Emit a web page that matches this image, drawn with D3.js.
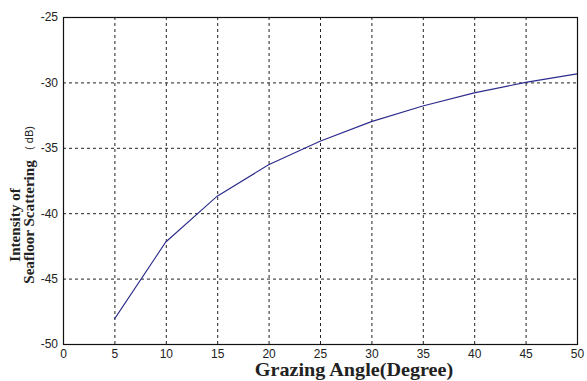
<!DOCTYPE html>
<html>
<head>
<meta charset="utf-8">
<script src="https://cdn.jsdelivr.net/npm/d3@7"></script>
<style>
  body { margin: 0; background: #fff; }
  .tick text { font-family: "Liberation Sans", Arial, sans-serif; font-size: 12px; fill: #222; }
</style>
</head>
<body>
<div class="chart"></div>
<script>
// grazing angle (degree) vs intensity of seafloor scattering (dB)
const angles = [5, 10, 15, 20, 25, 30, 35, 40, 45, 50];
const intensity = [-48.1, -42.2, -38.7, -36.3, -34.5, -33.0, -31.8, -30.8, -30.0, -29.35];
const xTicks = [0, 5, 10, 15, 20, 25, 30, 35, 40, 45, 50];
const yTicks = [-50, -45, -40, -35, -30, -25];

const svgWidth = 587, svgHeight = 381;
const margin = {top: 17, right: 10, bottom: 37, left: 63};
const graphWidth = svgWidth - margin.left - margin.right;
const graphHeight = svgHeight - margin.top - margin.bottom;

const svg = d3.select('.chart')
  .append('svg')
  .attr('width', svgWidth)
  .attr('height', svgHeight);

const graph = svg.append('g')
  .attr('transform', `translate(${margin.left},${margin.top})`);

const x = d3.scaleLinear().domain([0, 50]).range([0, graphWidth]);
const y = d3.scaleLinear().domain([-50, -25]).range([graphHeight, 0]);

// grid
graph.append('g')
  .selectAll('line')
  .data(xTicks.slice(1, -1))
  .enter().append('line')
  .attr('x1', d => x(d) + 0.5).attr('x2', d => x(d) + 0.5)
  .attr('y1', 0).attr('y2', graphHeight)
  .attr('stroke', '#222').attr('stroke-width', 1)
  .attr('stroke-dasharray', '3,3');
graph.append('g')
  .selectAll('line')
  .data(yTicks.slice(1, -1))
  .enter().append('line')
  .attr('y1', d => y(d) + 0.5).attr('y2', d => y(d) + 0.5)
  .attr('x1', 0).attr('x2', graphWidth)
  .attr('stroke', '#222').attr('stroke-width', 1)
  .attr('stroke-dasharray', '3,3');

// axes (plain hyphen minus like the original)
const xAxis = d3.axisBottom(x).tickValues(xTicks).tickSize(0).tickPadding(5)
  .tickFormat(d => String(d));
const yAxis = d3.axisLeft(y).tickValues(yTicks).tickSize(0).tickPadding(5)
  .tickFormat(d => String(d));

const xAxisgroup = graph.append('g')
  .attr('transform', `translate(0,${graphHeight})`)
  .call(xAxis);
const yAxisgroup = graph.append('g').call(yAxis);
xAxisgroup.select('.domain').remove();
yAxisgroup.select('.domain').remove();

// box
graph.append('rect')
  .attr('x', 0.5).attr('y', 0.5)
  .attr('width', graphWidth).attr('height', graphHeight)
  .attr('fill', 'none')
  .attr('stroke', '#111')
  .attr('stroke-width', 1.2);

// data line
const line = d3.line()
  .x((d, i) => x(angles[i]))
  .y(d => y(d));

graph.append('path')
  .datum(intensity)
  .attr('fill', 'none')
  .attr('stroke', '#2b2b8c')
  .attr('stroke-width', 1.1)
  .attr('d', line);

// titles - the original text looks a bit stretched along its run
svg.append('text')
  .attr('transform', 'translate(354,376) scale(1.12,1)')
  .attr('text-anchor', 'middle')
  .style('font-family', '"Liberation Serif", "Times New Roman", serif')
  .style('font-weight', 'bold')
  .style('font-size', '18px')
  .attr('fill', '#222')
  .text('Grazing Angle(Degree)');

svg.append('text')
  .attr('transform', 'translate(20,225) rotate(-90) scale(1.08,1)')
  .attr('text-anchor', 'middle')
  .style('font-family', '"Liberation Serif", "Times New Roman", serif')
  .style('font-weight', 'bold')
  .style('font-size', '14px')
  .attr('fill', '#222')
  .text('Intensity of');

svg.append('text')
  .attr('transform', 'translate(34,222) rotate(-90) scale(1.08,1)')
  .attr('text-anchor', 'middle')
  .style('font-family', '"Liberation Serif", "Times New Roman", serif')
  .style('font-weight', 'bold')
  .style('font-size', '14px')
  .attr('fill', '#222')
  .text('Seafloor Scattering');

svg.append('text')
  .attr('transform', 'translate(33,138) rotate(-90)')
  .attr('text-anchor', 'middle')
  .style('font-family', '"Liberation Sans", Arial, sans-serif')
  .style('font-size', '11px')
  .attr('fill', '#222')
  .text('( dB)');
</script>
</body>
</html>
